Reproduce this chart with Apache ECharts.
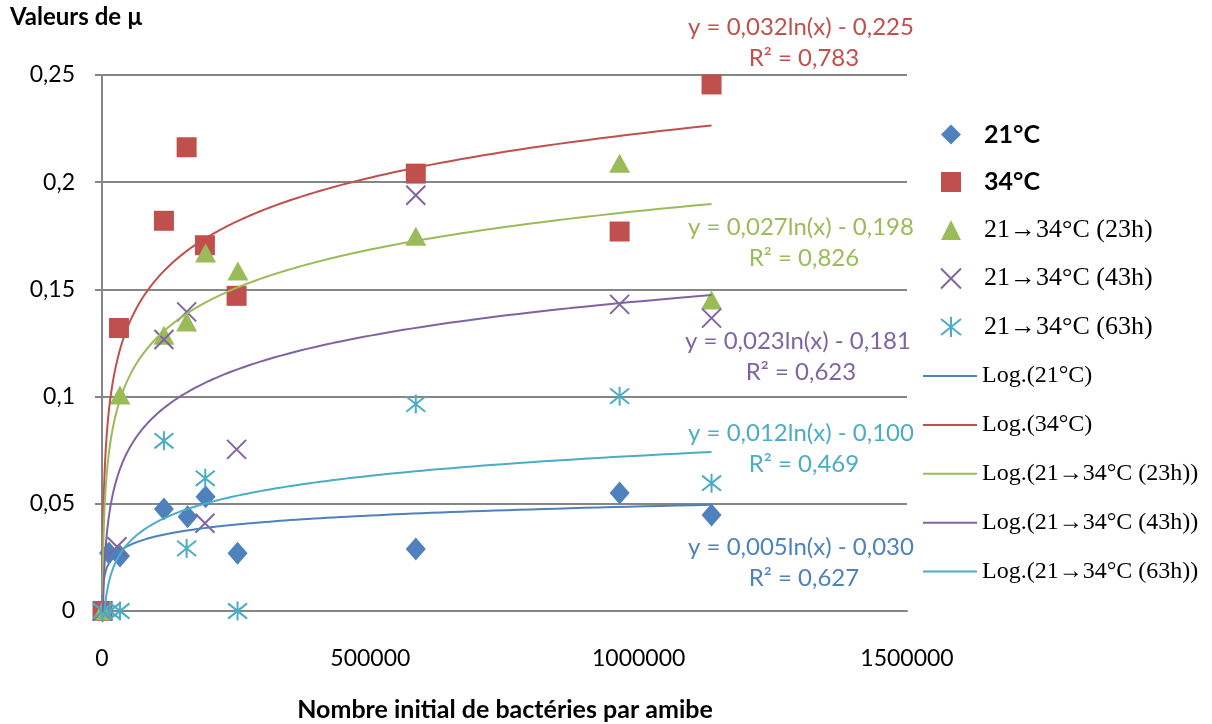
<!DOCTYPE html>
<html><head><meta charset="utf-8">
<script src="https://cdn.jsdelivr.net/npm/echarts@6/dist/echarts.min.js"></script>
<style>html,body{margin:0;padding:0;background:#fff}#c{width:1212px;height:724px}</style>
</head><body><div id="c"></div>
<script>
// ---- data ----
const x21 = [1000, 13000, 33500, 115400, 159500, 193000, 252600, 584700, 964500, 1135800];
const y21 = [0, 0.027, 0.0256, 0.0476, 0.044, 0.0533, 0.0269, 0.0289, 0.055, 0.0448];
const x34 = [1000, 31600, 115400, 157700, 191800, 250800, 584700, 964500, 1135800];
const y34 = [0, 0.132, 0.182, 0.2163, 0.1706, 0.147, 0.204, 0.177, 0.2456];
const x23h = [1000, 33500, 115400, 157700, 193000, 253200, 584700, 964500, 1135800];
const y23h = [0, 0.1007, 0.1286, 0.1348, 0.167, 0.1586, 0.1748, 0.2088, 0.145];
const x43h = [1000, 28000, 115400, 157700, 191800, 250800, 584700, 964500, 1135800];
const y43h = [0, 0.030, 0.1266, 0.1395, 0.0409, 0.0754, 0.1939, 0.143, 0.1366];
const x63h = [1000, 15000, 33500, 115400, 157700, 192400, 252600, 584700, 964500, 1135800];
const y63h = [0, 0, 0, 0.0794, 0.0292, 0.0619, 0, 0.0965, 0.1002, 0.0596];

const seriesNames = ['21°C', '34°C', '21→34°C (23h)', '21→34°C (43h)', '21→34°C (63h)'];
const trendNames = ['Log.(21°C)', 'Log.(34°C)', 'Log.(21→34°C (23h))', 'Log.(21→34°C (43h))', 'Log.(21→34°C (63h))'];
const eqTexts = ['y = 0,005ln(x) - 0,030', 'y = 0,032ln(x) - 0,225', 'y = 0,027ln(x) - 0,198', 'y = 0,023ln(x) - 0,181', 'y = 0,012ln(x) - 0,100'];
const r2Texts = ['R² = 0,627', 'R² = 0,783', 'R² = 0,826', 'R² = 0,623', 'R² = 0,469'];
const yTicks = [0, 0.05, 0.1, 0.15, 0.2, 0.25];
const xTicks = [0, 500000, 1000000, 1500000];

// ---- presentation ----
const colors = ['#4F81BD', '#C0504D', '#9BBB59', '#8064A2', '#4BACC6'];
const xsAll = [x21, x34, x23h, x43h, x63h];
const ysAll = [y21, y34, y23h, y43h, y63h];
const symbols = ['diamond', 'rect', 'triangle', 'path://M0,0L10,10M10,0L0,10', 'path://M5,0L5,10M0,1L10,9M10,1L0,9'];
const symSizes = [[20, 23], 20, [21, 19], 19, 19];

// logarithmic least-squares trendline (as the spreadsheet does)
function logFit(xs, ys) {
  const L = xs.map(Math.log), n = L.length;
  const mL = L.reduce((s, v) => s + v, 0) / n, mY = ys.reduce((s, v) => s + v, 0) / n;
  let sxy = 0, sxx = 0;
  for (let i = 0; i < n; i++) { sxy += (L[i] - mL) * (ys[i] - mY); sxx += (L[i] - mL) ** 2; }
  const a = sxy / sxx; return { a, b: mY - a * mL };
}
function trendCurve(xs, ys) {
  const f = logFit(xs, ys);
  const x0 = Math.min(...xs), x1 = Math.max(...xs), pts = [], N = 240;
  for (let i = 0; i <= N; i++) {
    const x = Math.exp(Math.log(x0) + (Math.log(x1) - Math.log(x0)) * i / N);
    pts.push([x, f.a * Math.log(x) + f.b]);
  }
  return pts;
}

const series = [];
for (let k = 0; k < 5; k++) {
  const isPath = k >= 3;
  series.push({
    name: seriesNames[k], type: 'scatter',
    data: xsAll[k].map((x, i) => [x, ysAll[k][i]]),
    symbol: symbols[k], symbolSize: symSizes[k],
    itemStyle: isPath ? { color: 'rgba(0,0,0,0)', borderColor: colors[k], borderWidth: 2, opacity: 1 } : { color: colors[k], opacity: 1 },
    z: 2
  });
}
for (let k = 0; k < 5; k++) {
  series.push({
    name: trendNames[k], type: 'line', data: trendCurve(xsAll[k], ysAll[k]),
    symbol: 'none', showSymbol: false, smooth: false,
    lineStyle: { color: colors[k], width: 2 }, itemStyle: { color: colors[k] },
    z: 3, silent: true
  });
}

const eqCenters = [[801, 547], [801, 27], [801, 227], [798, 341], [801, 433]];
const graphics = [
  { type: 'text', left: 10, top: 5, style: { text: 'Valeurs de µ', font: 'bold 24px Lato', fill: '#000' } },
  { type: 'text', x: 505, y: 710, style: { text: 'Nombre initial de bactéries par amibe', font: 'bold 25px Lato', fill: '#000', align: 'center', verticalAlign: 'middle' } }
];
for (let k = 0; k < 5; k++) {
  graphics.push({ type: 'text', x: eqCenters[k][0], y: eqCenters[k][1], z: 10,
    style: { text: eqTexts[k], font: '24px Lato', fill: colors[k], align: 'center', verticalAlign: 'middle' } });
  graphics.push({ type: 'text', x: eqCenters[k][0] + 3, y: eqCenters[k][1] + 31.5, z: 10,
    style: { text: r2Texts[k], font: '24px Lato', fill: colors[k], align: 'center', verticalAlign: 'middle' } });
}

const fmtNum = v => String(v).replace('.', ',');
const legendRich1 = {
  b: { fontFamily: 'Lato', fontWeight: 'bold', fontSize: 25, color: '#000' },
  s: { fontFamily: 'Liberation Serif', fontSize: 26, color: '#000' }
};
const legendRich2 = {
  s: { fontFamily: 'Liberation Serif', fontSize: 24, color: '#000' }
};
const chart = echarts.init(document.getElementById('c'), null, { renderer: 'canvas' });
chart.setOption({
  animation: false,
  backgroundColor: '#fff',
  grid: { left: 102, right: 305, top: 75, bottom: 113, containLabel: false },
  xAxis: {
    type: 'value', min: xTicks[0], max: xTicks[xTicks.length - 1], interval: xTicks[1] - xTicks[0],
    axisLine: { show: true, lineStyle: { color: '#868686', width: 2 } },
    axisTick: { show: false }, splitLine: { show: false },
    axisLabel: { margin: 36, fontFamily: 'Lato', fontSize: 23, color: '#000', formatter: v => String(v) }
  },
  yAxis: {
    type: 'value', min: yTicks[0], max: yTicks[yTicks.length - 1], interval: yTicks[1] - yTicks[0],
    axisLine: { show: true, lineStyle: { color: '#868686', width: 2 } },
    axisTick: { show: true, length: 7, lineStyle: { color: '#868686', width: 2 } },
    splitLine: { show: true, lineStyle: { color: '#868686', width: 2 } },
    axisLabel: { margin: 27, fontFamily: 'Lato', fontSize: 23, color: '#000', formatter: v => fmtNum(+v.toFixed(2)) }
  },
  legend: [
    { data: seriesNames, orient: 'vertical', left: 935, top: 117, itemWidth: 20, itemHeight: 20, itemGap: 22.5,
      selectedMode: false, textStyle: { padding: [0, 0, 0, 18], rich: legendRich1 },
      formatter: n => (n === '21°C' || n === '34°C') ? '{b|' + n + '}' : '{s|' + n + '}' },
    { data: trendNames, orient: 'vertical', left: 918, top: 359, itemWidth: 54, itemHeight: 14, itemGap: 24.9,
      icon: 'path://M0,6L54,6L54,8L0,8Z',
      selectedMode: false, textStyle: { rich: legendRich2 }, formatter: n => '{s|' + n + '}' }
  ],
  graphic: graphics,
  series: series
});
</script></body></html>
